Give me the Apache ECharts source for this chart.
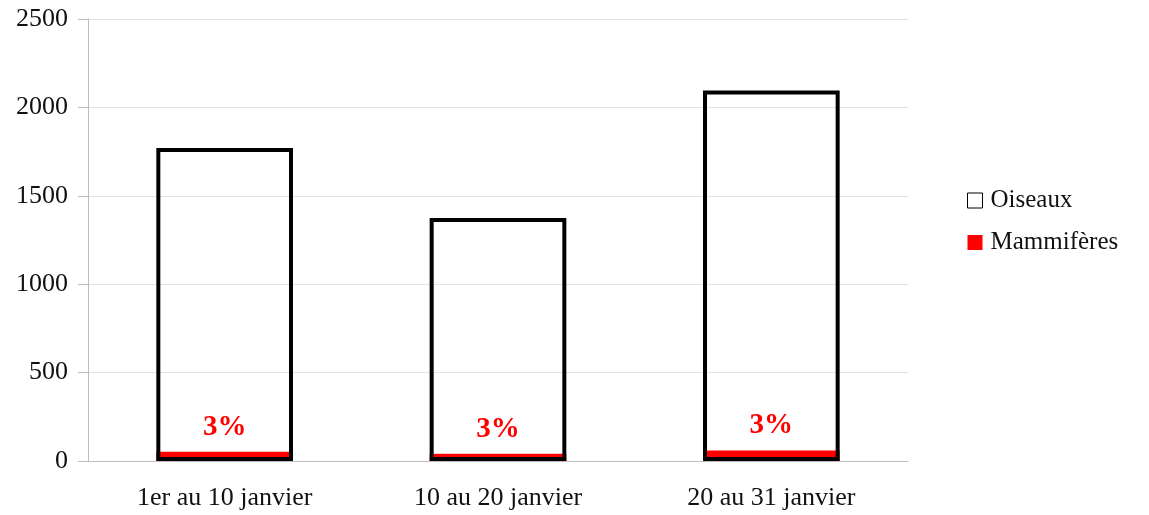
<!DOCTYPE html>
<html>
<head>
<meta charset="utf-8">
<style>
  html, body { margin: 0; padding: 0; background: #fff; }
  #chart { width: 1149px; height: 515px; }
</style>
<script src="https://cdn.jsdelivr.net/npm/echarts@6/dist/echarts.min.js"></script>
</head>
<body>
<div id="chart"></div>
<script>
// Observation periods (January)
const categories = ['1er au 10 janvier', '10 au 20 janvier', '20 au 31 janvier'];
// Total bar height per period (outlined bars)
const oiseaux = [1770, 1375, 2095];
// Mammals per period (red bars at the base)
const mammiferes = [53, 41, 60];
const yTicks = { min: 0, max: 2500, interval: 500 };

const serif = '"Liberation Serif", "DejaVu Serif", serif';
const chart = echarts.init(document.getElementById('chart'));

chart.setOption({
  animation: false,
  backgroundColor: '#fff',
  textStyle: { fontFamily: serif },
  grid: { left: 88, right: 241, top: 19, bottom: 54 },
  legend: {
    orient: 'vertical',
    left: 962,
    top: 183,
    icon: 'rect',
    itemWidth: 15,
    itemHeight: 15,
    itemGap: 17,
    textStyle: { fontFamily: serif, fontSize: 25, color: '#111', padding: [0, 0, 0, 3] },
    data: [
      { name: 'Oiseaux', itemStyle: { color: '#fff', borderColor: '#000', borderWidth: 1 } },
      { name: 'Mammifères' }
    ]
  },
  xAxis: {
    type: 'category',
    data: categories,
    axisLine: { lineStyle: { color: '#bdbdbd', width: 1 } },
    axisTick: { length: 10, lineStyle: { color: '#bdbdbd' } },
    axisLabel: { fontFamily: serif, fontSize: 26, color: '#111', margin: 24 },
    splitLine: { show: false }
  },
  yAxis: {
    type: 'value',
    min: yTicks.min,
    max: yTicks.max,
    interval: yTicks.interval,
    axisLine: { show: true, lineStyle: { color: '#bdbdbd', width: 1 } },
    axisTick: { show: true, length: 10, lineStyle: { color: '#bdbdbd' } },
    axisLabel: { fontFamily: serif, fontSize: 26, color: '#111', margin: 20, formatter: v => String(v) },
    splitLine: { lineStyle: { color: '#e3e3e3', width: 1 } }
  },
  series: [
    {
      name: 'Mammifères',
      type: 'bar',
      data: mammiferes,
      barWidth: '50%',
      barGap: '-100%',
      z: 2,
      itemStyle: { color: '#ff0000' },
      label: {
        show: true,
        position: 'top',
        distance: 10,
        fontFamily: serif,
        fontWeight: 'bold',
        fontSize: 29,
        color: '#ff0000',
        formatter: p => Math.round(p.value / oiseaux[p.dataIndex] * 100) + '%'
      }
    },
    {
      name: 'Oiseaux',
      type: 'bar',
      data: oiseaux,
      barWidth: '50%',
      barGap: '-100%',
      z: 3,
      itemStyle: { color: 'rgba(255,255,255,0)', borderColor: '#000', borderWidth: 4 }
    }
  ]
});
</script>
</body>
</html>
